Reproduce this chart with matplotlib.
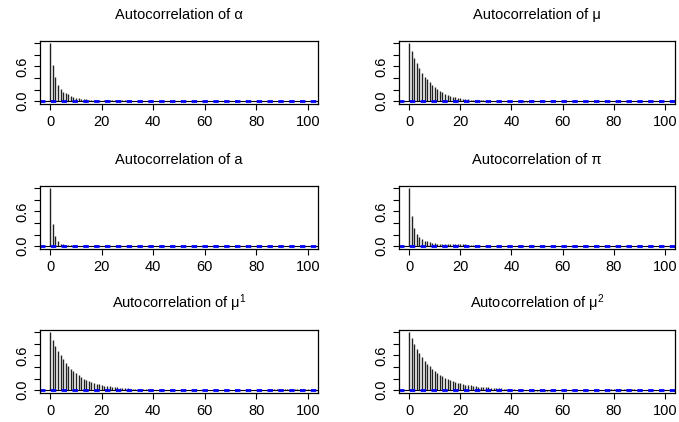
import numpy as np
import matplotlib
matplotlib.use("Agg")
import matplotlib.pyplot as plt

plt.rcParams['font.family'] = ['Liberation Sans', 'DejaVu Sans']
plt.rcParams['mathtext.fontset'] = 'custom'
plt.rcParams['mathtext.rm'] = 'Liberation Sans'
plt.rcParams['mathtext.it'] = 'Liberation Sans'

titles = ["Autocorrelation of α", "Autocorrelation of μ",
          "Autocorrelation of a", "Autocorrelation of π",
          "Autocorrelation of μ$^{1}$", "Autocorrelation of μ$^{2}$"]

acf_alpha = [1.000, 0.620, 0.410, 0.285, 0.210, 0.165, 0.140, 0.118, 0.094, 0.072,
             0.060, 0.047, 0.040, 0.034, 0.029, 0.024, 0.020, 0.017, 0.014, 0.012,
             0.010, 0.011, 0.013, 0.016, 0.018, 0.020, 0.022, 0.021, 0.018, 0.013,
             0.009, 0.006, 0.004, 0.003, 0.002, 0.001, 0.000, -0.001, 0.000, 0.001,
             0.002, 0.003, 0.002, 0.001, 0.000, -0.001, -0.002, -0.001, 0.000, 0.001,
             0.002, 0.002, 0.001, 0.000, -0.001, -0.002, -0.002, -0.001, 0.000, 0.001,
             0.002, 0.003, 0.003, 0.002, 0.001, 0.000, -0.001, -0.002, -0.001, 0.000,
             0.001, 0.002, 0.002, 0.001, 0.000, -0.001, -0.001, 0.000, 0.001, 0.002,
             0.003, 0.003, 0.002, 0.001, 0.000, -0.001, -0.002, -0.001, 0.000, 0.001,
             0.002, 0.002, 0.001, 0.000, -0.001, -0.001, 0.000, 0.001, 0.002, 0.002,
             0.001]

acf_mu = [1.000, 0.870, 0.750, 0.660, 0.565, 0.490, 0.425, 0.375, 0.330, 0.285,
          0.250, 0.212, 0.180, 0.152, 0.130, 0.110, 0.094, 0.077, 0.065, 0.054,
          0.047, 0.040, 0.034, 0.029, 0.025, 0.021, 0.018, 0.015, 0.013, 0.011,
          0.009, 0.007, 0.006, 0.004, 0.003, 0.002, 0.001, 0.000, -0.001, -0.002,
          -0.003, -0.004, -0.005, -0.006, -0.006, -0.007, -0.007, -0.006, -0.005, -0.004,
          -0.003, -0.002, -0.001, 0.000, 0.001, 0.002, 0.002, 0.003, 0.003, 0.002,
          0.002, 0.001, 0.001, 0.000, 0.000, 0.001, 0.002, 0.003, 0.004, 0.004,
          0.005, 0.005, 0.004, 0.004, 0.003, 0.003, 0.004, 0.005, 0.006, 0.006,
          0.005, 0.004, 0.003, 0.002, 0.001, 0.000, -0.001, -0.001, 0.000, 0.001,
          0.002, 0.003, 0.003, 0.002, 0.001, 0.000, 0.000, 0.001, 0.001, 0.000,
          0.000]

acf_a = [1.000, 0.390, 0.170, 0.080, 0.045, 0.030, 0.020, 0.015, 0.012, 0.010,
         0.008, 0.006, 0.005, 0.004, 0.003, 0.002, 0.001, 0.000, -0.001, 0.000,
         0.001, 0.002, 0.001, 0.000, -0.001, -0.002, -0.001, 0.000, 0.001, 0.002,
         0.003, 0.003, 0.002, 0.001, 0.000, -0.001, -0.001, 0.000, 0.001, 0.001,
         0.000, -0.001, -0.002, -0.002, -0.001, 0.000, 0.001, 0.002, 0.002, 0.001,
         0.000, -0.001, -0.001, 0.000, 0.001, 0.002, 0.003, 0.002, 0.001, 0.000,
         -0.001, -0.002, -0.001, 0.000, 0.001, 0.002, 0.002, 0.001, 0.000, -0.001,
         -0.002, -0.002, -0.001, 0.000, 0.001, 0.002, 0.002, 0.001, 0.000, -0.001,
         0.000, 0.001, 0.002, 0.003, 0.002, 0.001, 0.000, -0.001, -0.001, 0.000,
         0.001, 0.002, 0.002, 0.001, 0.000, -0.001, 0.000, 0.001, 0.001, 0.000,
         0.000]

acf_pi = [1.000, 0.520, 0.310, 0.205, 0.160, 0.120, 0.095, 0.080, 0.070, 0.060,
          0.052, 0.045, 0.040, 0.037, 0.035, 0.034, 0.033, 0.033, 0.032, 0.031,
          0.030, 0.029, 0.028, 0.027, 0.025, 0.018, 0.012, 0.008, 0.006, 0.005,
          0.004, 0.003, 0.002, 0.001, 0.000, -0.001, 0.000, 0.001, 0.002, 0.002,
          0.001, 0.000, -0.001, -0.002, -0.001, 0.000, 0.001, 0.002, 0.003, 0.002,
          0.001, 0.000, -0.001, -0.001, 0.000, 0.001, 0.002, 0.002, 0.001, 0.000,
          -0.001, -0.002, -0.002, -0.001, 0.000, 0.001, 0.002, 0.002, 0.001, 0.000,
          0.000, 0.001, 0.002, 0.003, 0.003, 0.002, 0.001, 0.000, -0.001, -0.001,
          0.000, 0.001, 0.002, 0.002, 0.001, 0.000, -0.001, -0.002, -0.001, 0.000,
          0.001, 0.002, 0.002, 0.001, 0.000, 0.000, 0.001, 0.001, 0.000, 0.000,
          0.000]

acf_mu1 = [1.000, 0.870, 0.770, 0.680, 0.600, 0.535, 0.470, 0.420, 0.370, 0.330,
           0.290, 0.260, 0.230, 0.200, 0.180, 0.157, 0.140, 0.122, 0.110, 0.098,
           0.087, 0.079, 0.072, 0.066, 0.060, 0.054, 0.049, 0.044, 0.039, 0.035,
           0.030, 0.027, 0.024, 0.021, 0.019, 0.017, 0.015, 0.013, 0.011, 0.010,
           0.009, 0.008, 0.007, 0.006, 0.005, 0.004, 0.004, 0.003, 0.003, 0.002,
           0.002, 0.001, 0.001, 0.000, 0.000, -0.001, -0.001, 0.000, 0.001, 0.002,
           0.003, 0.004, 0.004, 0.003, 0.002, 0.001, 0.000, 0.000, 0.001, 0.002,
           0.003, 0.003, 0.002, 0.001, 0.000, 0.000, 0.001, 0.002, 0.003, 0.004,
           0.005, 0.006, 0.007, 0.008, 0.009, 0.010, 0.011, 0.012, 0.013, 0.014,
           0.015, 0.016, 0.017, 0.018, 0.019, 0.019, 0.020, 0.020, 0.019, 0.018,
           0.017]

acf_mu2 = [1.000, 0.900, 0.800, 0.715, 0.640, 0.570, 0.510, 0.460, 0.410, 0.370,
           0.330, 0.300, 0.270, 0.243, 0.218, 0.195, 0.176, 0.158, 0.142, 0.130,
           0.117, 0.105, 0.096, 0.088, 0.080, 0.073, 0.067, 0.061, 0.057, 0.053,
           0.050, 0.047, 0.044, 0.041, 0.038, 0.035, 0.031, 0.027, 0.023, 0.019,
           0.015, 0.011, 0.007, 0.004, 0.001, -0.002, -0.004, -0.006, -0.008, -0.009,
           -0.010, -0.011, -0.012, -0.012, -0.011, -0.010, -0.008, -0.006, -0.004, -0.002,
           0.000, 0.001, 0.002, 0.002, 0.002, 0.001, 0.001, 0.000, 0.000, 0.001,
           0.002, 0.003, 0.004, 0.005, 0.006, 0.007, 0.008, 0.010, 0.012, 0.014,
           0.016, 0.017, 0.018, 0.018, 0.017, 0.016, 0.015, 0.013, 0.011, 0.009,
           0.008, 0.007, 0.006, 0.005, 0.004, 0.004, 0.003, 0.003, 0.002, 0.002,
           0.002]

series = [acf_alpha, acf_mu, acf_a, acf_pi, acf_mu1, acf_mu2]
conf_limit = 0.007

x_ticks = [0, 20, 40, 60, 80, 100]
y_ticks = [0.0, 0.2, 0.4, 0.6, 0.8, 1.0]
y_tick_labels = ["0.0", "", "", "0.6", "", ""]

W, H = 679, 422
fig = plt.figure(figsize=(W / 100, H / 100), dpi=100)

lefts = [40, 399]
widths = [278, 276]
tops = [41, 186, 330]
ax_h = 63

for i, vals in enumerate(series):
    r, c = divmod(i, 2)
    l = lefts[c]
    t = tops[r]
    ax = fig.add_axes([l / W, 1 - (t + ax_h) / H, widths[c] / W, ax_h / H])
    lags = np.arange(len(vals))
    ax.vlines(lags, 0, vals, colors='#222222', linewidth=1.0)
    ax.axhline(0, color='black', linewidth=0.8)
    ax.axhline(conf_limit, color='blue', linestyle=(0, (3, 3)), linewidth=1.3)
    ax.axhline(-conf_limit, color='blue', linestyle=(0, (3, 3)), linewidth=1.3)
    ax.set_xlim(-4, 104)
    ax.set_ylim(-0.05, 1.04)
    ax.set_xticks(x_ticks)
    ax.set_xticklabels([str(v) for v in x_ticks], fontsize=10.5)
    ax.set_yticks(y_ticks)
    ax.set_yticklabels(y_tick_labels, fontsize=10.5, rotation=90, va='center')
    ax.tick_params(direction='out', length=4, width=0.8, pad=4)
    for s in ax.spines.values():
        s.set_linewidth(0.9)
    ax.set_title(titles[i], fontsize=10.5, pad=16)

fig.savefig("out.png", dpi=100)
